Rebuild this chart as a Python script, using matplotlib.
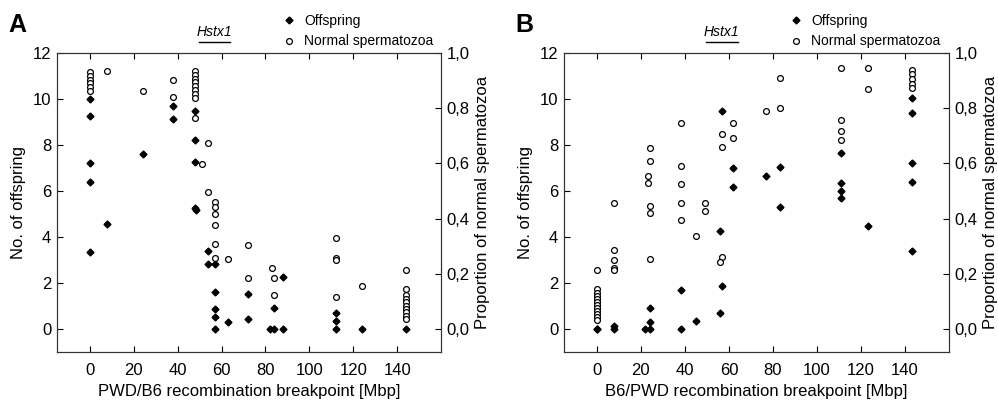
import matplotlib
matplotlib.use("Agg")
import matplotlib.pyplot as plt
from matplotlib.transforms import blended_transform_factory

plt.rcParams['font.family'] = ['Liberation Sans', 'DejaVu Sans']

# Panel A: PWD/B6 breakpoints
a_off_x = [0, 0, 0, 0, 0, 8, 24, 38, 38, 48, 48, 48, 48, 48.5,
           54, 54, 57, 57, 57, 57, 57, 63, 72, 72, 84, 82, 84, 88, 88,
           112, 112, 112, 124, 144]
a_off_y = [10.0, 9.26, 7.2, 6.38, 3.35, 4.57, 7.6, 9.7, 9.14, 9.46, 8.2, 7.27, 5.25, 5.19,
           3.39, 2.83, 2.83, 1.62, 0.87, 0.53, 0.0, 0.3, 1.52, 0.45, 0.9, 0.0, 0.0, 2.27, 0.0,
           0.71, 0.35, 0.0, 0.0, 0.0]
a_sperm_x = [0, 0, 0, 0, 0, 0, 8, 24, 38, 38,
             48, 48, 48, 48, 48, 48, 48, 48, 48,
             54, 51, 54, 57, 57, 57, 57, 57, 57, 63,
             72, 72, 83, 84, 84,
             112, 112, 112, 112, 124,
             144, 144, 144, 144, 144, 144, 144, 144, 144, 144]
a_sperm_y = [0.93, 0.917, 0.903, 0.89, 0.876, 0.862, 0.933, 0.861, 0.902, 0.842,
             0.935, 0.921, 0.907, 0.893, 0.879, 0.866, 0.852, 0.838, 0.764,
             0.673, 0.597, 0.496, 0.461, 0.443, 0.416, 0.378, 0.307, 0.258, 0.252,
             0.304, 0.186, 0.22, 0.186, 0.123,
             0.331, 0.256, 0.25, 0.117, 0.157,
             0.214, 0.144, 0.125, 0.11, 0.097, 0.085, 0.072, 0.06, 0.048, 0.036]

# Panel B: B6/PWD breakpoints
b_off_x = [0, 0, 8, 8, 22, 24, 24, 24, 38, 38, 45,
           57, 56, 57, 56, 62, 62, 77, 83, 83,
           111, 111, 111, 111, 123, 143, 143, 143, 143, 143]
b_off_y = [0.0, 0.0, 0.13, 0.0, 0.0, 0.9, 0.3, 0.0, 1.7, 0.0, 0.35,
           9.48, 4.27, 1.87, 0.7, 6.98, 6.16, 6.65, 7.06, 5.32,
           7.67, 6.33, 6.0, 5.68, 4.49, 10.03, 9.38, 7.23, 6.4, 3.39]
b_sperm_x = [0, 0, 0, 0, 0, 0, 0, 0, 0, 0, 0, 0,
             8, 8, 8, 8, 8,
             24, 24, 23, 23, 24, 24, 24,
             38, 38, 38, 38, 38, 45, 49, 49,
             57, 57, 57, 56, 62, 62, 77, 83, 83,
             111, 111, 111, 111, 123, 123,
             143, 143, 143, 143, 143]
b_sperm_y = [0.214, 0.144, 0.132, 0.12, 0.108, 0.097, 0.086, 0.075, 0.064, 0.053, 0.043, 0.033,
             0.458, 0.286, 0.25, 0.222, 0.214,
             0.657, 0.608, 0.553, 0.53, 0.446, 0.419, 0.254,
             0.745, 0.592, 0.524, 0.455, 0.395, 0.337, 0.458, 0.429,
             0.707, 0.66, 0.262, 0.244, 0.745, 0.693, 0.79, 0.911, 0.802,
             0.944, 0.757, 0.717, 0.685, 0.944, 0.87,
             0.938, 0.922, 0.905, 0.888, 0.872]

left_ticks = [0, 2, 4, 6, 8, 10, 12]
right_ticks = [0.0, 0.2, 0.4, 0.6, 0.8, 1.0]
right_labels = ['0,0', '0,2', '0,4', '0,6', '0,8', '1,0']
x_ticks = [0, 20, 40, 60, 80, 100, 120, 140]
hstx1_span = [49.5, 64]


def draw_panel(rect, letter, xlabel, off_x, off_y, sperm_x, sperm_y):
    ax = fig.add_axes(rect)
    ax2 = ax.twinx()

    # offspring on left axis, spermatozoa proportion on right axis
    off, = ax.plot(off_x, off_y, linestyle='none', marker='D', markersize=3.5,
                   color='black', label='Offspring')
    sperm, = ax2.plot(sperm_x, sperm_y, linestyle='none', marker='o', markersize=4.2,
                      markerfacecolor='white', markeredgecolor='black',
                      markeredgewidth=0.9, label='Normal spermatozoa')

    ax.set_xlim(-15, 160)
    ax.set_ylim(-1, 12)
    ax2.set_ylim(-1 / 12, 1.0)
    ax.set_xticks(x_ticks)
    ax.set_yticks(left_ticks)
    ax2.set_yticks(right_ticks)
    ax2.set_yticklabels(right_labels)

    ax.tick_params(axis='x', direction='in', top=True, length=4, width=0.8,
                   labelsize=12, pad=8)
    ax.tick_params(axis='y', direction='in', right=False, length=4, width=0.8,
                   labelsize=12, pad=4)
    ax2.tick_params(axis='y', direction='in', length=4, width=0.8,
                    labelsize=12, pad=4)
    for a in (ax, ax2):
        for s in a.spines.values():
            s.set_linewidth(0.8)
            s.set_color('#333333')

    ax.set_xlabel(xlabel, fontsize=12, labelpad=4)
    ax.set_ylabel('No. of offspring', fontsize=12, labelpad=5)
    ax2.set_ylabel('Proportion of normal spermatozoa', fontsize=12, labelpad=4)

    # Hstx1 region above the plot
    trans = blended_transform_factory(ax.transData, ax.transAxes)
    ax.plot(hstx1_span, [1.035, 1.035], transform=trans, color='black',
            linewidth=1.0, clip_on=False)
    ax.text(sum(hstx1_span) / 2, 1.07, 'Hstx1', transform=trans, fontsize=10,
            style='italic', ha='center', va='center')

    ax.legend(handles=[off, sperm], loc='lower left', bbox_to_anchor=(0.585, 1.015),
              frameon=False, fontsize=10, handlelength=1.0, handletextpad=0.6,
              labelspacing=0.45, borderaxespad=0, borderpad=0)

    ax.text(-0.125, 1.094, letter, transform=ax.transAxes, fontsize=18,
            fontweight='bold', ha='left', va='center')
    return ax


fig = plt.figure(figsize=(9.98, 4.01), dpi=100)
draw_panel([0.057, 0.122, 0.385, 0.746], 'A', 'PWD/B6 recombination breakpoint [Mbp]',
           a_off_x, a_off_y, a_sperm_x, a_sperm_y)
draw_panel([0.565, 0.122, 0.386, 0.746], 'B', 'B6/PWD recombination breakpoint [Mbp]',
           b_off_x, b_off_y, b_sperm_x, b_sperm_y)

fig.savefig('out.png', dpi=100)
